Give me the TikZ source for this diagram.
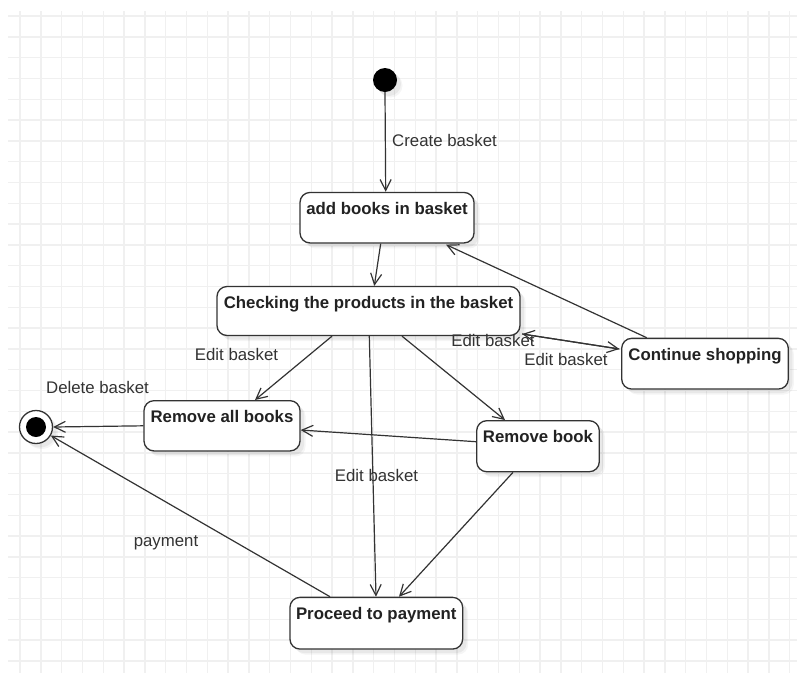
\documentclass[tikz,border=0pt]{standalone}
\usepackage{fontspec}
\setmainfont{Liberation Sans}
\usetikzlibrary{arrows.meta,shadows}

\definecolor{ink}{HTML}{333333}
\definecolor{boldink}{HTML}{222222}
\definecolor{gridgray}{HTML}{F0F0F0}

\tikzset{
  gridline/.style={draw=gridgray, line width=1.4pt},
  softshadow/.style={
    drop shadow={shadow xshift=5.5pt, shadow yshift=-5.5pt, fill=black, opacity=0.04},
    drop shadow={shadow xshift=4pt, shadow yshift=-4pt, fill=black, opacity=0.05}},
  state/.style={draw=ink, line width=1.3pt, fill=white, rounded corners=10pt,
    inner sep=0pt, softshadow},
  statetext/.style={font=\fontsize{16.8}{20}\selectfont\bfseries, text=boldink,
    anchor=base, inner sep=0pt},
  edgelabel/.style={font=\fontsize{16.8}{20}\selectfont, text=ink,
    anchor=base, inner sep=0pt},
  trans/.style={draw=ink, line width=1.2pt,
    -{Straight Barb[length=11pt, width=11pt, line width=1.2pt]}},
}

\begin{document}
\begin{tikzpicture}[x=1pt, y=-1pt]
  \useasboundingbox (0,0) rectangle (797,673);
  \fill[white] (0,0) rectangle (797,673);

  % background grid
  \begin{scope}
    \clip (8,11) rectangle (797,673);
    \foreach \i in {0,...,37} \draw[gridline] ({20+20.8*\i},11) -- ({20+20.8*\i},673);
    \foreach \j in {0,...,31} \draw[gridline] (8,{16+20.8*\j}) -- (797,{16+20.8*\j});
  \end{scope}

  % initial and final pseudo-states
  \node[circle, fill=black, minimum size=24pt, inner sep=0pt, softshadow] (init) at (385,80) {};
  \node[circle, draw=ink, line width=1.3pt, fill=white, minimum size=33pt, inner sep=0pt, softshadow] (fin) at (36,427) {};
  \node[circle, fill=black, minimum size=20pt, inner sep=0pt] (fincore) at (fin) {};

  % states
  \node[state, minimum width=174pt, minimum height=50.5pt] (add)   at (387,217.7) {};
  \node[state, minimum width=303pt, minimum height=49pt]   (check) at (368.5,311) {};
  \node[state, minimum width=166.6pt, minimum height=50.7pt] (cont) at (705,363.7) {};
  \node[state, minimum width=156pt, minimum height=50.3pt] (rmall) at (222,425.8) {};
  \node[state, minimum width=122.6pt, minimum height=51pt] (rmone) at (538,446.2) {};
  \node[state, minimum width=172.7pt, minimum height=51.7pt] (pay)  at (376.3,623.2) {};

  % state names, set near the top of each box
  \node[statetext] (addt)   at ([shift={(0,22.5)}]add.north)   {add books in basket};
  \node[statetext] (checkt) at ([shift={(0,22.3)}]check.north) {Checking the products in the basket};
  \node[statetext] (contt)  at ([shift={(0,22.3)}]cont.north)  {Continue shopping};
  \node[statetext] (rmallt) at ([shift={(0,22.3)}]rmall.north) {Remove all books};
  \node[statetext] (rmonet) at ([shift={(0,22.3)}]rmone.north) {Remove book};
  \node[statetext] (payt)   at ([shift={(0,22.3)}]pay.north)   {Proceed to payment};

  % transitions
  \draw[trans] (init.south) -- ([shift={(-1.3,0)}]add.north);
  \draw[trans] ([shift={(-6.3,0)}]add.south) -- ([shift={(5.8,0)}]check.north);
  \draw[trans] ([shift={(-58.3,0)}]cont.north) -- ([shift={(59,1)}]add.south);
  \draw[trans] ([shift={(1.5,23)}]check.east) -- ([shift={(-1.7,-14.7)}]cont.west);
  \draw[trans] ([shift={(-1.7,-14.7)}]cont.west) -- ([shift={(1.5,23)}]check.east);
  \draw[trans] ([shift={(-36.5,0)}]check.south) -- ([shift={(33,0)}]rmall.north);
  \draw[trans] ([shift={(0.8,0)}]check.south) -- ([shift={(-0.3,0)}]pay.north);
  \draw[trans] ([shift={(33.5,0)}]check.south) -- ([shift={(-33,0)}]rmone.north);
  \draw[trans] ([shift={(0,-4.5)}]rmone.west) -- ([shift={(0,4.2)}]rmall.east);
  \draw[trans] ([shift={(-25,0)}]rmone.south) -- ([shift={(22.7,0)}]pay.north);
  \draw[trans] (rmall.west) -- (fin.east);
  \draw[trans] ([shift={(-46.3,0)}]pay.north) -- (fin);

  % transition labels
  \node[edgelabel] (lcreate) at (444.5,146) {Create basket};
  \node[edgelabel] (ledit1)  at (236.5,360) {Edit basket};
  \node[edgelabel] (ledit2)  at (376.5,481) {Edit basket};
  \node[edgelabel] (ledit3)  at (493,346.7) {Edit basket};
  \node[edgelabel] (ledit4)  at (566,365)   {Edit basket};
  \node[edgelabel] (ldelete) at (97.5,393.3) {Delete basket};
  \node[edgelabel] (lpay)    at (166,546)   {payment};
\end{tikzpicture}
\end{document}
